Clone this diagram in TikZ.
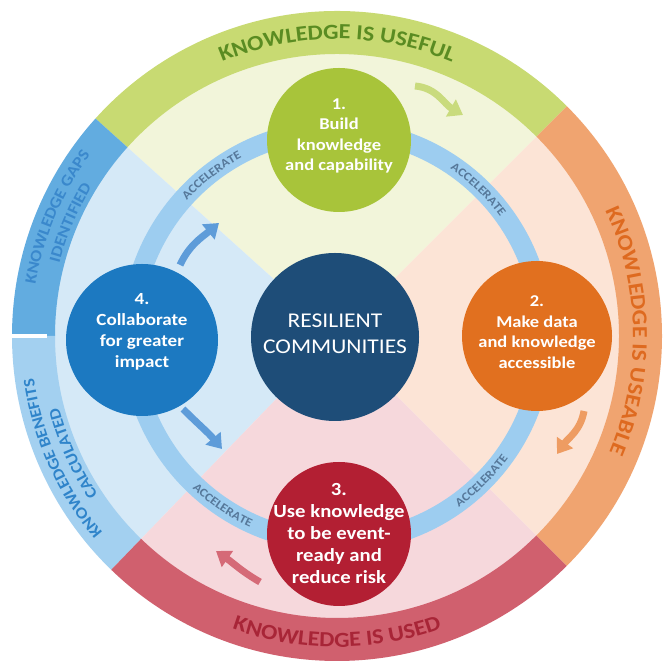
\documentclass[tikz,border=0pt]{standalone}
\usepackage{fontspec}
\setmainfont{Carlito}[FakeStretch=1.12]
\usetikzlibrary{decorations.text,arrows.meta,calc}

\definecolor{bgreen}{HTML}{C8DA72}
\definecolor{tgreen}{HTML}{5A8C22}
\definecolor{borange}{HTML}{F0A470}
\definecolor{torange}{HTML}{DE6A20}
\definecolor{bred}{HTML}{D0606E}
\definecolor{tred}{HTML}{A82537}
\definecolor{bblueA}{HTML}{62ACE0}
\definecolor{tblueA}{HTML}{3A88CC}
\definecolor{bblueB}{HTML}{A3D0F0}
\definecolor{tblueB}{HTML}{2F84CA}
\definecolor{ftop}{HTML}{F2F5DA}
\definecolor{fright}{HTML}{FCE4D6}
\definecolor{fbottom}{HTML}{F6D8DC}
\definecolor{fleft}{HTML}{D5E9F7}
\definecolor{ringcol}{HTML}{9DCDF0}
\definecolor{acccol}{HTML}{56789A}
\definecolor{cone}{HTML}{A8C43A}
\definecolor{ctwo}{HTML}{E1701F}
\definecolor{cthree}{HTML}{B31F33}
\definecolor{cfour}{HTML}{1C79C1}
\definecolor{ccenter}{HTML}{1E4D78}
\definecolor{agreen}{HTML}{C9DB7D}
\definecolor{aorange}{HTML}{EE9C62}
\definecolor{ared}{HTML}{D56A77}
\definecolor{ablue}{HTML}{5E9CD9}

\newcommand\bandfnt{\fontsize{21.5}{23}\selectfont\bfseries}
\newcommand\sidefnt{\fontsize{16}{18}\selectfont\bfseries}
\newcommand\accfnt{\fontsize{12}{13}\selectfont\bfseries}

\newcommand\quadfill[3]{\fill[#1] (C) -- ($(C)+(#2:283)$) arc[start angle=#2,end angle=#3,radius=283] -- cycle;}
\newcommand\bandseg[3]{\fill[#1] ($(C)+(#2:282)$) arc[start angle=#2,end angle=#3,radius=282] -- ($(C)+(#3:325)$) arc[start angle=#3,end angle=#2,radius=325] -- cycle;}
\newcommand\arctext[4]{\path[decorate,decoration={text along path,text align=center,text={#4}}] ($(C)+(#1:#3)$) arc[start angle=#1,end angle=#2,radius=#3];}

\tikzset{
  stage/.style={circle,inner sep=0pt,draw=none},
  ctext/.style={text=white,align=center,inner sep=0pt,font=\fontsize{16.5}{20.5}\selectfont\bfseries},
  flowarrow/.style={line width=7pt,-{Triangle[width=19pt,length=14pt]}},
}

\begin{document}
\begin{tikzpicture}[x=1pt,y=1pt]
\path[use as bounding box,fill=white] (0,0) rectangle (665,668);
\coordinate (C) at (337,332);

% interior quadrants
\quadfill{ftop}{45}{138}
\quadfill{fleft}{138}{226}
\quadfill{fbottom}{226}{315}
\quadfill{fright}{-45}{45}

% outer bands
\bandseg{bgreen}{45}{138}
\bandseg{bblueA}{138}{180}
\bandseg{bblueB}{180}{226}
\bandseg{bred}{226}{315}
\bandseg{borange}{-45}{45}
\draw[white,line width=4pt] ($(C)+(180:290)$) -- ($(C)+(180:327)$);

% accelerate ring
\draw[ringcol,line width=20pt] (C) circle (206);
\arctext{148}{108}{202}{|\accfnt\color{acccol}|ACCELERATE}
\arctext{66}{26}{202}{|\accfnt\color{acccol}|ACCELERATE}
\arctext{-65}{-25}{210}{|\accfnt\color{acccol}|ACCELERATE}
\arctext{-144}{-104}{210}{|\accfnt\color{acccol}|ACCELERATE}

% band labels
\arctext{130}{50}{297}{|\bandfnt\color{tgreen}|KNOWLEDGE IS USEFUL}
\arctext{41}{-39}{296}{|\bandfnt\color{torange}|KNOWLEDGE IS USEABLE}
\arctext{230}{310}{311}{|\bandfnt\color{tred}|KNOWLEDGE IS USED}
\arctext{185}{129}{306}{|\sidefnt\color{tblueA}|KNOWLEDGE GAPS}
\arctext{185}{129}{287}{|\sidefnt\color{tblueA}|IDENTIFIED}
\arctext{232}{176}{306}{|\sidefnt\color{tblueB}|KNOWLEDGE BENEFITS}
\arctext{232}{176}{287}{|\sidefnt\color{tblueB}|CALCULATED}

% flow arrows
\coordinate (ga) at (415,582); \coordinate (gb) at (463,553);
\coordinate (oa) at (584,257); \coordinate (ob) at (557,214);
\coordinate (ra) at (260,86);  \coordinate (rb) at (216,117);
\coordinate (ua) at (180,403); \coordinate (ub) at (219,445);
\coordinate (la) at (183,259); \coordinate (lb) at (222,219);
\draw[flowarrow,agreen] (ga) to[out=-5,in=150] (gb);
\draw[flowarrow,aorange] (oa) to[out=-100,in=55] (ob);
\draw[flowarrow,ared] (ra) to[out=150,in=-35] (rb);
\draw[flowarrow,ablue] (ua) to[out=65,in=220] (ub);
\draw[flowarrow,ablue] (la) to[out=-45,in=130] (lb);

% stage circles
\node[stage,fill=cone,minimum size=144pt] (n1) at (339,528) {};
\node[stage,fill=ctwo,minimum size=150pt] (n2) at (537,332) {};
\node[stage,fill=cthree,minimum size=144pt] (n3) at (339,134) {};
\node[stage,fill=cfour,minimum size=152pt] (n4) at (142,328) {};
\node[stage,fill=ccenter,minimum size=168pt] (nc) at (335,331) {};

\node[ctext] (t1) at ($(n1)+(0,4)$) {1.\\Build\\knowledge\\and capability};
\node[ctext] (t2) at ($(n2)+(0,4)$) {2.\\Make data\\and knowledge\\accessible};
\node[ctext,font=\fontsize{18.5}{22}\selectfont\bfseries] (t3) at ($(n3)+(0,0)$) {3.\\Use knowledge\\to be event-\\ready and\\reduce risk};
\node[ctext,font=\fontsize{17}{21}\selectfont\bfseries] (t4) at ($(n4)+(0,8)$) {4.\\Collaborate\\for greater\\impact};
\node[ctext,font=\fontsize{21}{26}\selectfont] (tc) at ($(nc)+(0,3)$) {RESILIENT\\COMMUNITIES};
\end{tikzpicture}
\end{document}
